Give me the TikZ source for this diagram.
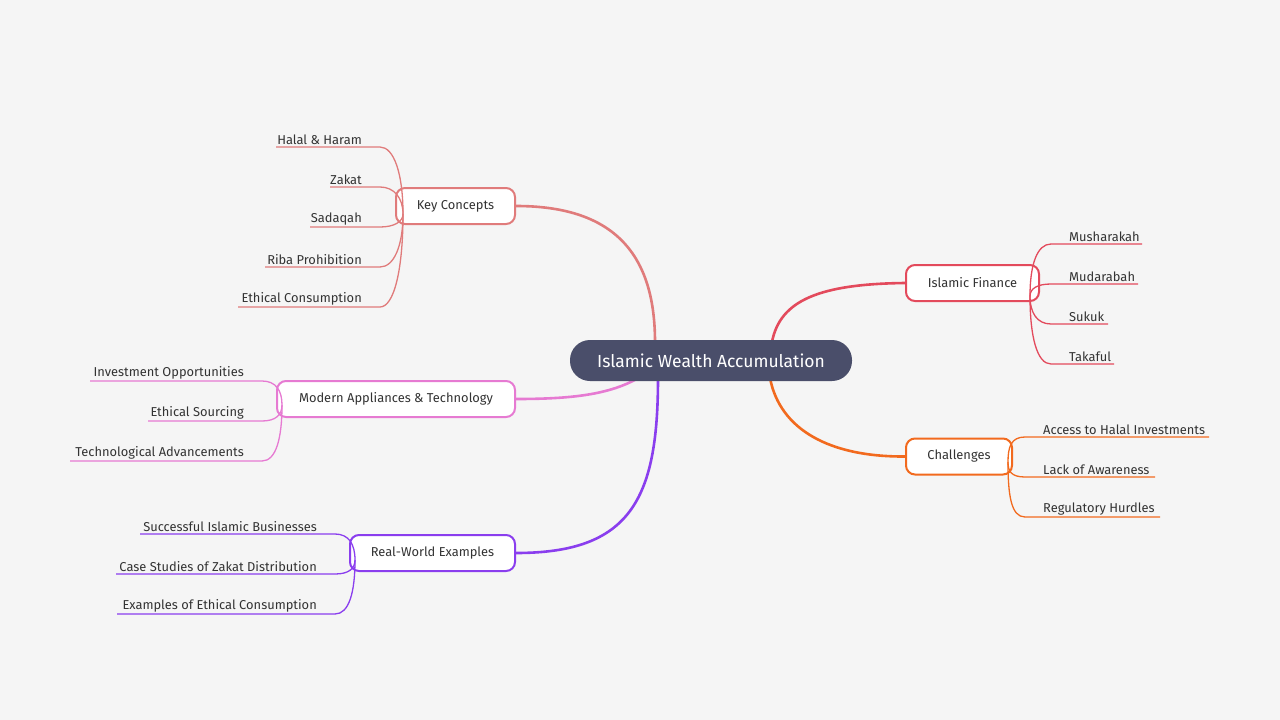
\documentclass[tikz,border=0pt]{standalone}
\usepackage{fontspec}
\setmainfont{Fira Sans}[Scale=0.92]
\usetikzlibrary{calc}
\definecolor{bg}{HTML}{F5F5F5}
\definecolor{cmain}{HTML}{4A4E6A}
\definecolor{ckey}{HTML}{E07B7B}
\definecolor{cfin}{HTML}{E34A5C}
\definecolor{cchal}{HTML}{F26A1E}
\definecolor{cmod}{HTML}{E67AD2}
\definecolor{creal}{HTML}{8A3EEE}
\definecolor{ctext}{HTML}{333333}
\tikzset{
  x=1pt,y=-1pt,
  branch/.style={draw=#1,line width=2pt,fill=white,rounded corners=9pt,minimum height=36pt,inner xsep=8pt,font=\fontsize{14}{16}\selectfont,text=ctext},
  leaf/.style={inner sep=2pt,inner xsep=2pt,font=\fontsize{14}{16}\selectfont,text=ctext},
  conn/.style={draw=#1,line width=2.6pt},
  lline/.style={draw=#1,line width=1.3pt},
}
\newcommand{\leafL}[7]{% name, text, right x, baseline y of line, left x of line, origin, color
  \node[leaf,anchor=south east] (#1) at (#3,#4) {#2};
  \coordinate (#1e) at (#3+16,#4);
  \draw[lline=#7] (#5,#4) -- (#1e) .. controls ($(#1e)+(14,0)$) and ($(#6)!0.6!(#6|-#1e)$) .. (#6);
}
\newcommand{\leafR}[7]{% name, text, left x, line y, right x of line, origin, color
  \node[leaf,anchor=south west] (#1) at (#3,#4) {#2};
  \coordinate (#1e) at (#3-16,#4);
  \draw[lline=#7] (#6) .. controls ($(#6)!0.6!(#6|-#1e)$) and ($(#1e)+(-14,0)$) .. (#1e) -- (#5,#4);
}
\begin{document}
\begin{tikzpicture}
\fill[bg] (0,0) rectangle (1280,720);
\useasboundingbox (0,0) rectangle (1280,720);
% connectors from center
\coordinate (ck) at (655,342);
\coordinate (cf) at (772,342);
\coordinate (cc) at (770,378);
\coordinate (cm) at (640,377);
\coordinate (cr) at (658,378);
\node[branch=ckey,minimum width=119pt] (key) at (455.5,206) {Key Concepts};
\node[branch=cfin,minimum width=133pt] (fin) at (972.5,283) {Islamic Finance};
\node[branch=cchal,minimum width=106pt] (chal) at (959,456.5) {Challenges};
\node[branch=cmod,minimum width=238pt] (mod) at (396,399) {Modern Appliances \& Technology};
\node[branch=creal,minimum width=165pt] (real) at (432.5,553) {Real-World Examples};
\draw[conn=ckey] (ck) .. controls (655,250) and (610,206) .. (key.east);
\draw[conn=cfin] (cf) .. controls (780,300) and (820,284) .. (fin.west);
\draw[conn=cchal] (cc) .. controls (780,430) and (830,457) .. (chal.west);
\draw[conn=cmod] (cm) .. controls (610,395) and (570,399) .. (mod.east);
\draw[conn=creal] (cr) .. controls (658,500) and (630,553) .. (real.east);
\node[fill=cmain,rounded corners=20pt,minimum width=282pt,minimum height=41pt,text=white,font=\fontsize{19}{22}\selectfont] (center) at (711,360.5) {Islamic Wealth Accumulation};
% key concepts leaves
\coordinate (ko) at (403,214);
\leafL{k1}{Halal \& Haram}{364}{147}{276}{ko}{ckey}
\leafL{k2}{Zakat}{364}{187}{330}{ko}{ckey}
\leafL{k3}{Sadaqah}{364}{227}{310}{ko}{ckey}
\leafL{k4}{Riba Prohibition}{364}{267}{265}{ko}{ckey}
\leafL{k5}{Ethical Consumption}{364}{307}{238}{ko}{ckey}
% islamic finance
\coordinate (fo) at (1030,296);
\leafR{f1}{Musharakah}{1067}{244}{1142}{fo}{cfin}
\leafR{f2}{Mudarabah}{1067}{284}{1138}{fo}{cfin}
\leafR{f3}{Sukuk}{1067}{324}{1108}{fo}{cfin}
\leafR{f4}{Takaful}{1067}{364}{1114}{fo}{cfin}
% challenges
\coordinate (co) at (1008,462);
\leafR{c1}{Access to Halal Investments}{1041}{437}{1209}{co}{cchal}
\leafR{c2}{Lack of Awareness}{1041}{477}{1155}{co}{cchal}
\leafR{c3}{Regulatory Hurdles}{1041}{517}{1160}{co}{cchal}
% modern
\coordinate (mo) at (282,405);
\leafL{m1}{Investment Opportunities}{246}{381}{90}{mo}{cmod}
\leafL{m2}{Ethical Sourcing}{246}{421}{148}{mo}{cmod}
\leafL{m3}{Technological Advancements}{246}{461}{70}{mo}{cmod}
% real
\coordinate (ro) at (355,560);
\leafL{r1}{Successful Islamic Businesses}{319}{534}{140}{ro}{creal}
\leafL{r2}{Case Studies of Zakat Distribution}{319}{574}{116}{ro}{creal}
\leafL{r3}{Examples of Ethical Consumption}{319}{614}{117}{ro}{creal}
\end{tikzpicture}
\end{document}
